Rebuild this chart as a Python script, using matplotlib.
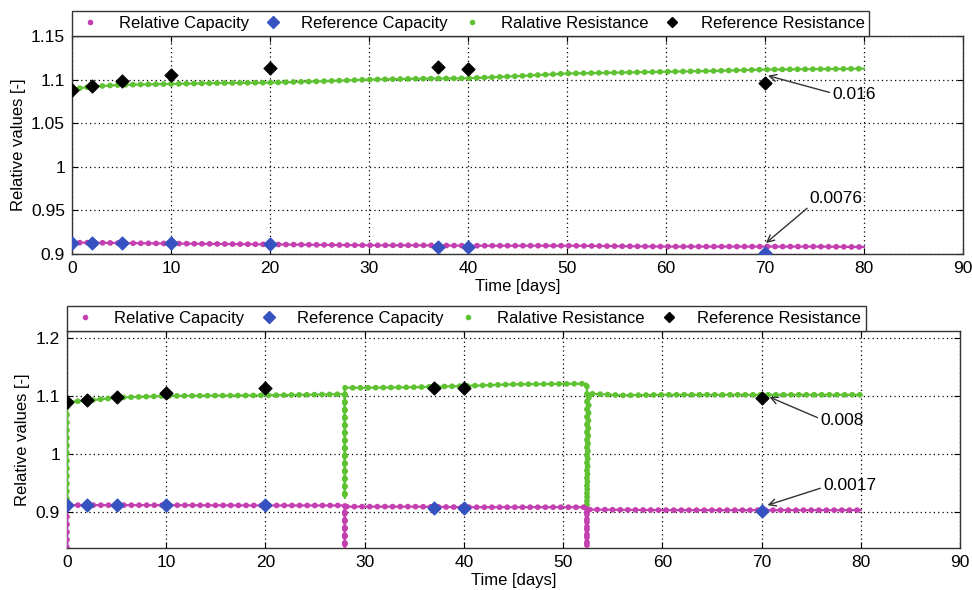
import matplotlib.pyplot as plt
from matplotlib.lines import Line2D

plt.rcParams["font.family"] = ["Liberation Sans", "DejaVu Sans"]
plt.rcParams["font.size"] = 11.5

MAGENTA = "#c43fb0"
GREEN = "#5fc232"
BLUE = "#3552c0"
BLACK = "#000000"

# ---- top panel data ----
top_t = [0, 2, 5, 10, 15, 20, 25, 30, 35, 40, 45, 50, 55, 60, 65, 70, 75, 80]
top_res = [1.089, 1.092, 1.094, 1.095, 1.096, 1.0965, 1.098, 1.100, 1.101, 1.1015,
           1.104, 1.107, 1.108, 1.109, 1.110, 1.1115, 1.112, 1.1125]
top_cap = [0.913, 0.913, 0.9125, 0.912, 0.9115, 0.911, 0.9105, 0.910, 0.910, 0.9095,
           0.9095, 0.9095, 0.909, 0.9085, 0.9085, 0.9085, 0.9085, 0.908]

ref_t = [0, 2, 5, 10, 20, 37, 40, 70]
top_ref_cap = [0.913, 0.913, 0.913, 0.9125, 0.912, 0.9077, 0.9075, 0.901]
top_ref_res = [1.088, 1.0927, 1.098, 1.1056, 1.113, 1.1144, 1.112, 1.0958]

# ---- bottom panel data ----
bot_t_res = [0, 0, 0.3, 2, 5, 10, 20, 27.9, 28, 28, 28, 28.3, 30, 35, 40, 45,
             52.3, 52.4, 52.4, 52.6, 56, 60, 70, 80]
bot_res = [0.91, 1.088, 1.09, 1.092, 1.097, 1.100, 1.101, 1.103, 1.103, 0.925, 1.114,
           1.114, 1.114, 1.115, 1.117, 1.120, 1.121, 1.121, 0.91, 1.104, 1.101, 1.102,
           1.102, 1.102]
bot_t_cap = [0, 0, 0.3, 10, 20, 27.9, 28, 28, 28, 28.3, 35, 40, 50, 52.3, 52.4, 52.4,
             52.4, 52.6, 60, 70, 80]
bot_cap = [0.84, 0.913, 0.9125, 0.9125, 0.912, 0.912, 0.912, 0.84, 0.910, 0.910, 0.910,
           0.909, 0.909, 0.909, 0.909, 0.84, 0.905, 0.905, 0.904, 0.904, 0.904]

bot_ref_cap = [0.9125, 0.9125, 0.9125, 0.9125, 0.912, 0.908, 0.908, 0.902]
bot_ref_res = [1.089, 1.093, 1.098, 1.105, 1.114, 1.114, 1.113, 1.096]

legend_labels = ["Relative Capacity", "Reference Capacity",
                 "Ralative Resistance", "Reference Resistance"]

fig = plt.figure(figsize=(9.72, 5.90), dpi=100)
ax1 = fig.add_axes([0.0741, 0.5695, 0.9166, 0.3695])
ax2 = fig.add_axes([0.0689, 0.0712, 0.9188, 0.3683])


def draw_series(ax, t, y, color):
    ax.plot(t, y, color=color, lw=1.6, zorder=3)
    ax.plot(t, y, color=color, lw=4.2, linestyle=(0, (0.01, 1.3)),
            dash_capstyle="round", zorder=3)


def style_axes(ax, yticks, ylim, ylabel_x):
    ax.set_xlim(0, 90)
    ax.set_ylim(*ylim)
    ax.set_xticks(range(0, 91, 10))
    ax.set_yticks(yticks)
    ax.set_yticklabels([f"{v:g}" for v in yticks])
    ax.grid(True, color="black", linestyle=(0, (1, 2.5)), lw=0.9)
    ax.tick_params(direction="in", top=True, right=True, length=4, pad=5,
                   labelsize=12.5)
    for s in ax.spines.values():
        s.set_color("#333333")
        s.set_linewidth(1.0)
    ax.set_xlabel("Time [days]", fontsize=12, labelpad=2)
    ax.set_ylabel("Relative values [-]", fontsize=12)
    ax.yaxis.set_label_coords(ylabel_x, 0.5)
    handles = [
        Line2D([], [], ls="none", marker=".", ms=6, color=MAGENTA),
        Line2D([], [], ls="none", marker="D", ms=6.5, color=BLUE),
        Line2D([], [], ls="none", marker=".", ms=6, color=GREEN),
        Line2D([], [], ls="none", marker="D", ms=5.5, color=BLACK),
    ]
    leg = ax.legend(handles, legend_labels, ncol=4, loc="lower left",
                    bbox_to_anchor=(0, 1.0, 0.895, 0.12), mode="expand",
                    borderaxespad=0, fancybox=False, handlelength=1.6,
                    handletextpad=0.9, fontsize=12, borderpad=0.3, framealpha=1)
    leg.get_frame().set_edgecolor("#333333")
    leg.get_frame().set_linewidth(1.0)


# top panel
draw_series(ax1, top_t, top_res, GREEN)
draw_series(ax1, top_t, top_cap, MAGENTA)
ax1.scatter(ref_t, top_ref_cap, marker="D", s=42, color=BLUE, zorder=4)
ax1.scatter(ref_t, top_ref_res, marker="D", s=42, color=BLACK, zorder=4)
style_axes(ax1, [0.9, 0.95, 1, 1.05, 1.1, 1.15], (0.9, 1.15), -0.052)

arrow = dict(arrowstyle="->", color="#333333", lw=1.0, shrinkA=0, shrinkB=0)
ax1.annotate("0.016", xy=(70.3, 1.1045), xytext=(76.8, 1.0827), ha="left",
             va="center", fontsize=12.5,
             arrowprops=dict(arrow, relpos=(0.0, 0.6)))
ax1.annotate("0.0076", xy=(70.1, 0.9126), xytext=(74.5, 0.9642), ha="left",
             va="center", fontsize=12.5,
             arrowprops=dict(arrow, relpos=(0.05, 0.1)))

# bottom panel
draw_series(ax2, bot_t_res, bot_res, GREEN)
draw_series(ax2, bot_t_cap, bot_cap, MAGENTA)
ax2.scatter(ref_t, bot_ref_cap, marker="D", s=42, color=BLUE, zorder=4)
ax2.scatter(ref_t, bot_ref_res, marker="D", s=42, color=BLACK, zorder=4)
style_axes(ax2, [0.9, 1, 1.1, 1.2], (0.839, 1.212), -0.041)

ax2.annotate("0.008", xy=(70.8, 1.098), xytext=(75.9, 1.057), ha="left",
             va="center", fontsize=12.5,
             arrowprops=dict(arrow, relpos=(0.0, 0.65)))
ax2.annotate("0.0017", xy=(70.6, 0.9125), xytext=(76.2, 0.9456), ha="left",
             va="center", fontsize=12.5,
             arrowprops=dict(arrow, relpos=(0.0, 0.4)))

fig.savefig("out.png", dpi=100)
